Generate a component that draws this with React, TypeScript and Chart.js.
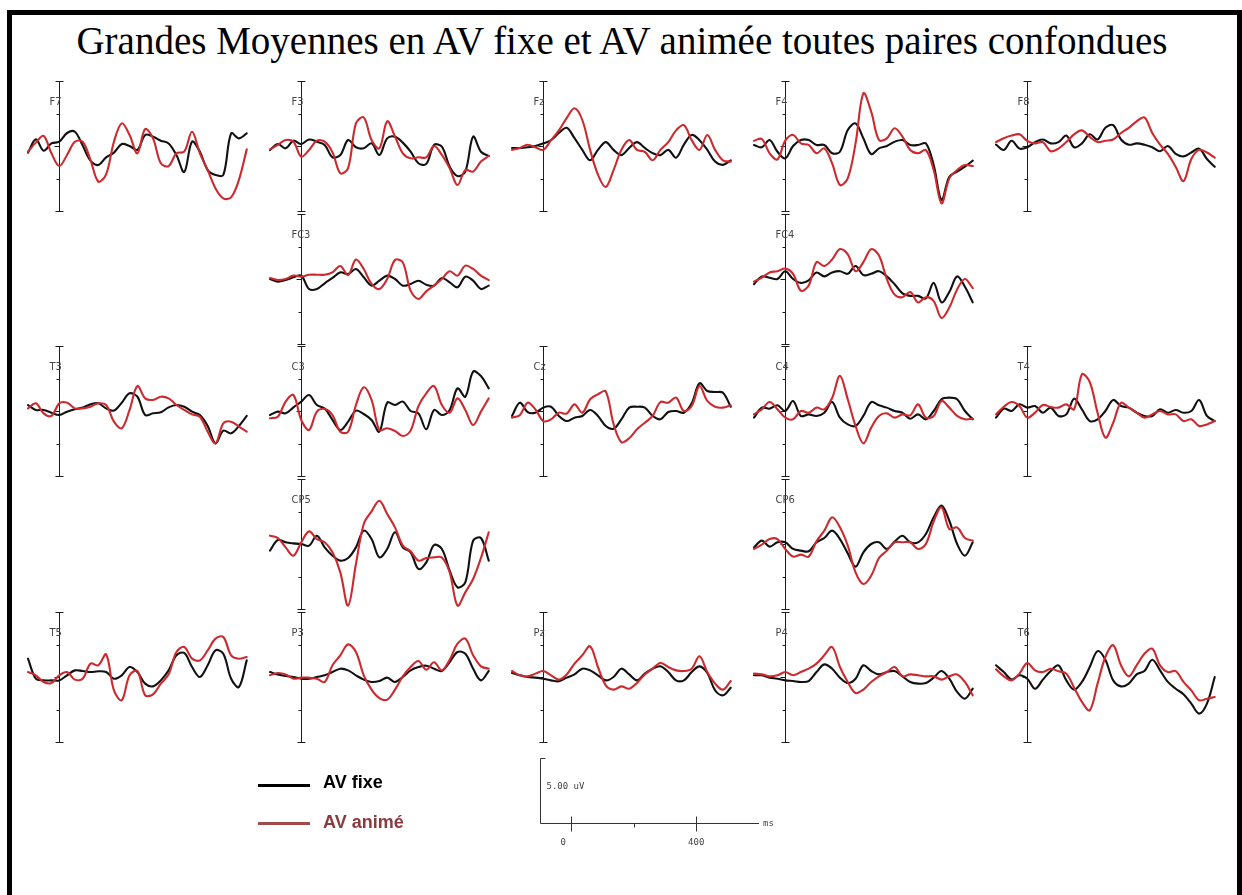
import React, { useEffect, useRef } from "react";
import { Chart, registerables } from "chart.js";

Chart.register(...registerables);

// ---------- data ----------
const TIMES_MS = [-100, -75, -50, -25, 0, 25, 50, 75, 100, 125, 150, 175, 200, 225, 250, 275, 300, 325, 350, 375, 400, 425, 450, 475, 500, 525, 550, 575, 600];
const AMPLITUDE_TICKS_UV = [-5, -2.5, 0, 2.5, 5];
const SCALE_TICKS_MS = [0, 200, 400];
const SCALE_TICK_LABELS = ["0", "", "400"];
const SCALE_BAR_UV = 5;

const F7_FIXE = [-0.51, 0.51, -0.36, 0.2, 0.33, 1.0, 1.1, 0.03, -1.13, -1.46, -0.87, -0.51, 0.15, 0, -0.3, 0.85, 0.72, 0.41, 0.2, -0.7, -2.0, 0.33, -0.44, -1.85, -2.23, -2.23, 0.97, 0.59, 0.97];
const F7_ANIME = [-0.44, 0.26, 0.77, -0.56, -1.54, -0.69, 0.33, 0.33, -1.08, -2.74, -2.18, 0.33, 1.74, 0.85, -0.56, 1.3, 0.59, -1.33, -1.54, -0.56, -0.44, 1.1, -0.56, -1.85, -3.26, -4.03, -3.95, -2.6, -0.26];
const F3_FIXE = [-0.31, 0.15, -0.18, 0.41, 0.15, 0.5, 0.33, 0.08, -0.87, -0.69, 0.46, -0.1, -0.18, 0.2, -0.69, 0.59, 0.72, 0.26, -0.44, -1.33, -1.38, 0.08, -0.05, -1.59, -2.31, -1.97, 0.72, -0.44, -0.77];
const F3_ANIME = [-0.26, 0.08, 0.46, 0.33, -0.82, -0.31, 0.41, 0.33, -0.49, -2.1, -1.7, 1.74, 2.2, 0.46, -0.18, 1.9, 0.72, -0.56, -0.95, -0.87, -0.87, 0, -0.69, -1.72, -3.0, -1.85, -1.97, -1.2, -0.77];
const FZ_FIXE = [-0.15, -0.15, -0.1, 0, 0.2, 0.45, 1.0, 1.4, 0.6, -0.3, -1.1, -0.3, 0.3, -0.3, -0.7, -0.15, 0.3, -0.15, -0.55, -0.7, -0.3, -0.9, 0.1, 0.85, 0.45, -0.3, -1.2, -1.45, -1.1];
const FZ_ANIME = [-0.3, -0.15, 0.1, -0.1, -0.3, 0.45, 1.2, 2.15, 2.9, 2.0, -0.3, -2.2, -3.15, -1.85, -0.3, 0.45, -0.3, -0.45, -1.1, -0.3, 0.3, 1.2, 1.6, 0.45, -0.3, 0.85, -0.3, -1.1, -1.2];
const F4_FIXE = [0.08, -0.1, 0.46, -0.44, -0.95, 0, 0.46, 0.46, 0.08, 0.08, -0.56, -0.44, 1.23, 1.74, 0.59, -0.62, -0.18, 0, 0.33, 0.46, 0.08, 0.08, 0.2, -1.46, -4.15, -2.36, -1.97, -1.59, -1.13];
const F4_ANIME = [0.41, 0.54, -0.56, -1.03, 0.41, 0.85, 0.2, 0.08, -0.56, -0.18, -1.33, -3.0, -2.49, 0.2, 4.05, 2.64, 0.46, 0.59, 1.36, 0.72, -0.31, -0.56, -0.31, -1.85, -4.41, -2.49, -1.85, -1.46, -1.54];
const F8_FIXE = [0.1, -0.3, 0.4, -0.2, -0.1, 0.3, 0.5, 0.2, 0.3, 0.8, -0.1, 0.2, 0.9, 0.5, 1.4, 1.6, 0.5, 0.1, 0.2, 0.1, -0.1, -0.4, 0, -0.6, -0.8, -0.5, -0.2, -1.0, -1.6];
const F8_ANIME = [0.3, 0.6, 0.8, 0.9, 0.4, 0.2, 0.3, -0.4, -0.2, 0.3, 0.9, 1.2, 0.7, 0.3, 0.4, 0.5, 1.0, 1.4, 1.9, 2.2, 1.0, 0.1, -0.6, -1.6, -2.7, -1.0, -0.3, -0.5, -0.9];
const FC3_FIXE = [0, -0.2, -0.08, 0.13, 0.26, -0.77, -0.77, -0.33, 0.08, 0.51, 0.38, 0.77, 0.13, -0.51, -0.13, 0.26, 0, -0.51, -0.38, -0.13, -0.44, -0.51, 0.08, -0.26, -0.64, 0.18, -0.13, -0.77, -0.51];
const FC3_ANIME = [0.08, -0.08, 0, 0.26, 0.18, 0.33, 0.33, 0.33, 0.51, 1.0, 0.3, 1.5, 0.77, -0.38, -0.77, 0, 1.46, 1.28, -0.9, -1.54, -0.95, -0.51, 0, 0.59, 0.26, 1.03, 0.77, 0.26, -0.08];
const FC4_FIXE = [-0.4, 0.2, 0.1, 0.0, 0.6, 0.0, -0.3, -0.1, 0.5, 0.2, 0.5, 0.6, 0.4, 1.0, 0.3, 0.4, 0.6, 0.2, -0.4, -1.1, -1.3, -1.3, -1.5, -0.3, -1.8, -1.0, 0.2, -0.6, -1.8];
const FC4_ANIME = [-0.2, 0.1, 0.5, 0.6, 0.8, 0.4, -0.9, -0.5, 1.3, 1.0, 1.5, 2.3, 1.9, 0.6, 1.3, 2.3, 1.8, 0.0, -1.2, -1.4, -1.0, -1.8, -1.4, -1.7, -3.0, -2.2, -0.8, 0.0, -0.7];
const T3_FIXE = [0.46, 0.08, 0.08, -0.13, -0.31, -0.05, 0.13, 0.26, 0.51, 0.59, 0.2, 0.03, 0.64, 1.36, 1.1, -0.31, -0.18, -0.1, 0.28, 0.46, 0.33, -0.05, -0.31, -1.15, -2.49, -1.51, -1.72, -1.15, -0.38];
const T3_ANIME = [0.2, 0.59, -0.18, -0.38, 0.59, 0.64, 0.2, 0.2, 0.33, 0.59, 0.46, -0.82, -1.33, 0.08, 1.92, 0.97, 0.85, 1.1, 0.97, 0.46, 0.08, -0.26, -0.44, -1.59, -2.49, -0.95, -0.82, -1.2, -1.59];
const C3_FIXE = [-0.31, -0.05, -0.18, 0.28, 0.72, 1.23, 0.46, 0.2, -0.69, -1.46, -0.82, 0.03, -0.23, -0.69, -1.59, 0.64, 0.46, 0.72, 0, -0.18, -1.41, 0.08, -0.31, 0.08, 1.74, 1.1, 3.03, 2.69, 1.74];
const C3_ANIME = [-0.56, -0.44, 0.72, 1.23, -0.69, -1.46, -0.05, 0.15, -0.31, -1.59, -1.59, 0.46, 1.82, 0.85, -1.46, -1.33, -1.54, -1.92, -1.51, 0.38, 1.36, 1.92, 0.46, -0.13, 0.97, 0.08, -1.08, -0.05, 0.97];
const CZ_FIXE = [-0.38, 0.64, -0.08, -0.13, 0.26, 0.33, -0.38, -0.77, -0.51, -0.38, 0.08, -0.38, -1.15, -1.36, -0.64, 0.26, 0.33, 0.26, -0.38, -0.64, -0.08, 0, -0.13, 0.59, 2.13, 1.54, 1.46, 1.41, 0.33];
const CZ_ANIME = [-0.51, -0.33, 0.64, 0.13, -0.77, -0.64, -0.13, -0.2, 0.51, -0.13, 0.9, 1.28, 1.5, -1.0, -2.4, -2.1, -1.41, -0.9, -0.38, 0.69, 0.64, 1.03, 0, 0.38, 1.92, 0.77, 0.33, 0.26, 0.44];
const C4_FIXE = [-0.51, 0.26, 0.18, 0.44, 0, 0.77, -0.38, -0.26, -0.38, -0.13, 0.69, -0.51, -1.03, -1.15, -0.38, 0.69, 0.44, 0.26, 0, -0.13, -0.59, -0.26, -0.64, 0, 0.9, 1.03, 0.9, 0, -0.64];
const C4_ANIME = [-0.26, 0.13, 0.69, 0.13, -0.51, -0.64, 0, -0.13, 0.26, 0.13, 1.0, 2.7, 0.9, -1.15, -2.49, -1.28, -0.38, -0.18, -0.51, -0.26, -0.33, 0.51, -0.51, -0.38, 0.77, 0.26, -0.38, -0.64, -0.59];
const T4_FIXE = [-0.51, 0.18, 0, 0.51, 0.26, 0.38, -0.13, 0.26, -0.38, -0.26, 0.95, 0.13, -0.77, -0.64, 0, 0.85, 0.38, 0.26, -0.13, -0.38, -0.38, 0.13, -0.13, 0.08, -0.13, 0, 0.85, -0.38, -0.77];
const T4_ANIME = [-0.26, 0.33, 0.69, 0.38, -0.51, -0.13, 0.46, 0.31, 0.26, 0.51, 0.13, 2.82, 2.23, -0.13, -2.05, -0.9, 0.64, 0.26, -0.13, -0.51, -0.26, 0, -0.26, -0.26, -0.77, -0.64, -1.15, -1.03, -0.77];
const CP5_FIXE = [-0.51, 0.31, 0.13, 0.05, 0, -0.13, 0.64, -0.26, -0.9, -1.28, -1.08, -0.26, 1.03, 0.38, -1.03, -0.38, 0.9, -0.26, -0.64, -1.92, -1.41, -0.08, -0.38, -2.05, -3.33, -2.95, 0.26, 0.46, -1.28];
const CP5_ANIME = [0.64, 0.46, -0.26, -0.9, 0.13, 0.97, 0.38, 0.13, -0.64, -2.18, -4.74, -1.54, 1.54, 2.51, 3.33, 2.31, 1.28, -0.13, -0.56, -1.28, -1.08, -1.03, -1.03, -2.18, -4.74, -3.72, -2.69, -1.08, 0.9];
const CP6_FIXE = [-0.26, 0.26, -0.2, 0.13, 0.13, -0.38, -0.51, -0.56, 0.13, 0.46, 1.03, 0.38, -0.72, -1.74, -0.64, 0, 0.13, -0.38, 0.18, 0.64, 0.13, 0.13, 0.77, 2.05, 2.95, 1.79, 0, -0.9, 0.13];
const CP6_ANIME = [-0.38, -0.05, 0.38, 0.38, -0.38, -0.97, -0.82, -0.97, 0.21, 1.03, 2.05, 1.28, -0.13, -2.18, -3.08, -2.44, -1.08, -0.51, 0.13, 0.13, 0.13, -0.38, 0, 1.74, 2.82, 1.15, 1.28, 0.46, 0.26];
const T5_FIXE = [1.41, -0.13, -0.26, -0.26, -0.26, 0.13, 0.51, 0.46, 0.38, 0.44, 0.38, -0.13, 0.13, 0.77, 0.38, -0.51, -0.72, -0.26, 0.51, 1.67, 1.85, 0.77, 0, 0.9, 2.05, 1.79, -0.13, -0.77, 1.28];
const T5_ANIME = [0.38, 0.13, -0.38, -0.46, 0.13, 0.38, -0.2, -0.13, 1.03, 0.9, 1.74, -1.03, -1.79, 0.13, 0.46, -1.41, -1.33, -0.51, 0.2, 1.92, 2.31, 1.41, 1.28, 2.05, 2.95, 3.08, 1.67, 1.41, 1.54];
const P3_FIXE = [0.38, 0.2, 0.08, 0, -0.13, -0.13, 0, 0.13, 0.38, 0.64, 0.51, 0.13, -0.2, -0.38, -0.31, -0.05, -0.38, 0, 0.51, 0.77, 0.87, 0.64, 0.46, 1.15, 1.92, 1.79, 0.64, -0.26, 0.46];
const P3_ANIME = [0.13, 0.31, 0.2, -0.13, -0.05, -0.05, -0.13, -0.38, 0.9, 1.67, 2.51, 1.92, 0.13, -0.97, -1.62, -1.74, -0.97, 0.05, 0.77, 1.23, 0.56, 1.13, 0.51, 1.33, 2.56, 2.95, 1.67, 0.82, 0.64];
const PZ_FIXE = [0.31, 0.13, 0, -0.05, -0.13, -0.26, -0.33, -0.05, 0.2, 0.64, 0.51, 0.13, -0.26, 0, 0.64, 0.2, -0.26, 0.26, 0.64, 0.82, 0.38, -0.26, -0.26, 0.38, 0.82, 0.31, -1.03, -1.41, -0.82];
const PZ_ANIME = [0.46, 0.13, 0.05, 0.26, 0.46, 0.13, -0.2, 0.2, 1.03, 1.67, 2.36, 0.77, -0.64, -0.97, -0.72, -0.9, -0.46, 0.2, 0.64, 1.08, 0.77, 0.51, 0.46, 0.64, 1.59, 0.38, -0.51, -0.97, -0.31];
const P4_FIXE = [0.13, 0.13, -0.05, -0.13, -0.26, -0.31, -0.38, -0.31, 0.38, 0.97, 0.64, -0.05, -0.46, -0.13, 0.9, 0.46, 0.2, 0.38, 0.46, 0.05, -0.38, -0.51, -0.46, -0.05, 0.46, -0.13, -1.15, -1.67, -0.9];
const P4_ANIME = [0.26, 0.2, 0.05, 0.13, 0.38, 0.13, 0.38, 0.64, 1.03, 1.67, 2.31, 0.77, -0.38, -1.23, -0.97, -0.38, 0.05, 0.38, 0.77, 0.05, 0.2, 0.13, 0.05, 0.05, -0.2, 0.05, 0.2, -0.38, -1.41];
const T6_FIXE = [0.9, 0.38, -0.2, 0.13, -0.13, -0.9, -0.2, 0.46, 0.9, -0.26, -0.97, -0.38, 0.77, 1.99, 1.33, -0.26, -0.72, -0.51, 0.2, 0.46, 1.33, 0.51, -0.38, -0.9, -1.33, -2.05, -2.82, -2.05, 0];
const T6_ANIME = [0.59, 0.05, -0.26, 0.26, 1.08, 0.51, 0.38, 0.64, 0.44, 0.26, -0.82, -1.92, -2.56, -0.51, 1.54, 2.44, 0.9, 0.05, 0.9, 1.79, 2.18, 0.9, 0.38, 0.46, -0.38, -1.03, -1.79, -1.67, -1.54];

const ELECTRODE_GRID = [
  ["F7", "F3", "Fz", "F4", "F8"],
  ["", "FC3", "", "FC4", ""],
  ["T3", "C3", "Cz", "C4", "T4"],
  ["", "CP5", "", "CP6", ""],
  ["T5", "P3", "Pz", "P4", "T6"],
];

const SERIES: Record<string, number[][]> = {
  F7: [F7_FIXE, F7_ANIME], F3: [F3_FIXE, F3_ANIME], Fz: [FZ_FIXE, FZ_ANIME], F4: [F4_FIXE, F4_ANIME], F8: [F8_FIXE, F8_ANIME],
  FC3: [FC3_FIXE, FC3_ANIME], FC4: [FC4_FIXE, FC4_ANIME],
  T3: [T3_FIXE, T3_ANIME], C3: [C3_FIXE, C3_ANIME], Cz: [CZ_FIXE, CZ_ANIME], C4: [C4_FIXE, C4_ANIME], T4: [T4_FIXE, T4_ANIME],
  CP5: [CP5_FIXE, CP5_ANIME], CP6: [CP6_FIXE, CP6_ANIME],
  T5: [T5_FIXE, T5_ANIME], P3: [P3_FIXE, P3_ANIME], Pz: [PZ_FIXE, PZ_ANIME], P4: [P4_FIXE, P4_ANIME], T6: [T6_FIXE, T6_ANIME],
};

const TITLE = "Grandes Moyennes en AV fixe et AV animée toutes paires confondues";
const LEGEND_FIXE = "AV fixe";
const LEGEND_ANIME = "AV animé";

// ---------- layout & style ----------
const PX_PER_MS = 0.3125;
const PX_PER_UV = 13;
const T_MIN = -100;
const T_MAX = 600;
const UV_RANGE = 5;
const COL_AXIS_X = [59, 301, 543, 785, 1027];
const ROW_BASE_Y = [146, 279, 411, 544, 677];
const PAD = { left: 30, right: 12, top: 8, bottom: 8 };
const BLACK = "#111111";
const RED = "#cc2a2e";
const AXIS_COLOR = "#1c1c1c";

const PLOT_W = (T_MAX - T_MIN) * PX_PER_MS;
const PLOT_H = 2 * UV_RANGE * PX_PER_UV;

const eegAxisPlugin = {
  id: "eegAxis",
  beforeDatasetsDraw(chart: any, _args: any, opts: any) {
    const { ctx } = chart;
    const xs = chart.scales.x;
    const ys = chart.scales.y;
    const ax = Math.round(xs.getPixelForValue(0)) + 0.5;
    const yTop = Math.round(ys.getPixelForValue(UV_RANGE));
    const yBot = Math.round(ys.getPixelForValue(-UV_RANGE));
    ctx.save();
    ctx.strokeStyle = AXIS_COLOR;
    ctx.lineWidth = 1;
    ctx.beginPath();
    ctx.moveTo(ax, yTop);
    ctx.lineTo(ax, yBot + 1);
    ctx.stroke();
    for (const v of AMPLITUDE_TICKS_UV) {
      const py = Math.round(ys.getPixelForValue(v)) + 0.5;
      ctx.beginPath();
      if (Math.abs(v) === UV_RANGE) {
        ctx.moveTo(ax - 4, py);
        ctx.lineTo(ax + 4, py);
      } else if (v === 0) {
        ctx.moveTo(ax - 5, py);
        ctx.lineTo(ax, py);
      } else {
        ctx.moveTo(ax - 3, py);
        ctx.lineTo(ax, py);
      }
      ctx.stroke();
    }
    ctx.fillStyle = "#444444";
    ctx.font = "11px 'Liberation Sans Narrow', 'DejaVu Sans Condensed', sans-serif";
    ctx.textBaseline = "middle";
    ctx.textAlign = "left";
    ctx.fillText(opts.label || "", ax - 10, ys.getPixelForValue(3.4));
    ctx.restore();
  },
};

function Panel({ name, col, row }: { name: string; col: number; row: number }) {
  const ref = useRef<HTMLCanvasElement>(null);
  const w = Math.round(PAD.left + PLOT_W + PAD.right);
  const h = Math.round(PAD.top + PLOT_H + PAD.bottom);
  const left = Math.round(COL_AXIS_X[col] - PAD.left - (0 - T_MIN) * PX_PER_MS);
  const top = Math.round(ROW_BASE_Y[row] - PAD.top - UV_RANGE * PX_PER_UV);
  useEffect(() => {
    const [fixe, anime] = SERIES[name];
    const chart = new Chart(ref.current as HTMLCanvasElement, {
      type: "line",
      data: {
        datasets: [
          {
            label: LEGEND_ANIME,
            data: TIMES_MS.map((t, i) => ({ x: t, y: anime[i] })),
            borderColor: RED,
            borderWidth: 2.1,
            order: 0,
          },
          {
            label: LEGEND_FIXE,
            data: TIMES_MS.map((t, i) => ({ x: t, y: fixe[i] })),
            borderColor: BLACK,
            borderWidth: 2.1,
            order: 1,
          },
        ],
      },
      options: {
        responsive: false,
        animation: false,
        devicePixelRatio: 1,
        layout: { padding: { left: PAD.left, right: w - PAD.left - PLOT_W, top: PAD.top, bottom: h - PAD.top - PLOT_H } },
        elements: {
          point: { radius: 0 },
          line: { tension: 0.35, borderJoinStyle: "round", borderCapStyle: "round", fill: false },
        },
        datasets: { line: { clip: false } as any },
        plugins: {
          legend: { display: false },
          tooltip: { enabled: false },
          title: { display: false },
          eegAxis: { label: name },
        } as any,
        scales: {
          x: { type: "linear", min: T_MIN, max: T_MAX, display: false },
          y: { type: "linear", min: -UV_RANGE, max: UV_RANGE, display: false },
        },
      },
      plugins: [eegAxisPlugin],
    });
    return () => chart.destroy();
  }, [name]);
  return (
    <canvas
      ref={ref}
      width={w}
      height={h}
      style={{ position: "absolute", left, top, width: w, height: h }}
    />
  );
}

const scaleBarPlugin = {
  id: "scaleBar",
  afterDraw(chart: any) {
    const { ctx } = chart;
    const xs = chart.scales.x;
    const ys = chart.scales.y;
    const x0 = Math.round(xs.getPixelForValue(T_MIN)) + 0.5;
    const x1 = Math.round(xs.getPixelForValue(T_MAX));
    const yb = Math.round(ys.getPixelForValue(0)) + 0.5;
    const yt = Math.round(ys.getPixelForValue(SCALE_BAR_UV)) + 0.5;
    ctx.save();
    ctx.strokeStyle = "#333333";
    ctx.lineWidth = 1;
    ctx.beginPath();
    ctx.moveTo(x0 + 5, yt);
    ctx.lineTo(x0, yt);
    ctx.lineTo(x0, yb);
    ctx.lineTo(x1, yb);
    ctx.stroke();
    SCALE_TICKS_MS.forEach((t, i) => {
      const tx = Math.round(xs.getPixelForValue(t)) + 0.5;
      ctx.beginPath();
      if (SCALE_TICK_LABELS[i]) {
        ctx.moveTo(tx, yb - 7);
        ctx.lineTo(tx, yb + 8);
      } else {
        ctx.moveTo(tx, yb);
        ctx.lineTo(tx, yb + 4);
      }
      ctx.stroke();
    });
    ctx.fillStyle = "#444444";
    ctx.font = "9px 'DejaVu Sans Mono', monospace";
    ctx.textBaseline = "middle";
    SCALE_TICK_LABELS.forEach((lab, i) => {
      if (!lab) return;
      const tx = xs.getPixelForValue(SCALE_TICKS_MS[i]);
      ctx.textAlign = "center";
      ctx.fillText(lab, SCALE_TICKS_MS[i] === 0 ? tx - 8 : tx, yb + 19);
    });
    ctx.textAlign = "left";
    ctx.fillText(SCALE_BAR_UV.toFixed(2) + " uV", x0 + 6, ys.getPixelForValue(2.8));
    ctx.fillText("ms", x1 + 4, yb);
    ctx.restore();
  },
};

function ScaleBar() {
  const ref = useRef<HTMLCanvasElement>(null);
  const pad = { left: 6, right: 30, top: 8, bottom: 30 };
  const plotH = SCALE_BAR_UV * PX_PER_UV;
  const w = Math.round(pad.left + PLOT_W + pad.right);
  const h = Math.round(pad.top + plotH + pad.bottom);
  const left = 540 - pad.left;
  const top = 823 - plotH - pad.top;
  useEffect(() => {
    const chart = new Chart(ref.current as HTMLCanvasElement, {
      type: "line",
      data: { datasets: [{ data: [], borderWidth: 0 }] },
      options: {
        responsive: false,
        animation: false,
        devicePixelRatio: 1,
        layout: { padding: { left: pad.left, right: w - pad.left - PLOT_W, top: pad.top, bottom: h - pad.top - plotH } },
        plugins: { legend: { display: false }, tooltip: { enabled: false } },
        scales: {
          x: { type: "linear", min: T_MIN, max: T_MAX, display: false },
          y: { type: "linear", min: 0, max: SCALE_BAR_UV, display: false },
        },
      },
      plugins: [scaleBarPlugin],
    });
    return () => chart.destroy();
  }, []);
  return <canvas ref={ref} width={w} height={h} style={{ position: "absolute", left, top, width: w, height: h }} />;
}

export default function App() {
  const panels: { name: string; col: number; row: number }[] = [];
  ELECTRODE_GRID.forEach((r, ri) => r.forEach((n, ci) => { if (n) panels.push({ name: n, col: ci, row: ri }); }));
  return (
    <div style={{ position: "absolute", left: 0, top: 0, width: 1242, height: 895, background: "#ffffff", overflow: "hidden" }}>
      <div style={{ position: "absolute", left: 7, top: 10, width: 1225, height: 900, borderLeft: "5px solid #000", borderTop: "5px solid #000", borderRight: "5px solid #000" }} />
      <div
        style={{
          position: "absolute", left: 12, width: 1220, top: 21, textAlign: "center",
          fontFamily: "'Liberation Serif', 'Times New Roman', serif", fontSize: 39, lineHeight: "39px", color: "#000", whiteSpace: "nowrap",
        }}
      >
        {TITLE}
      </div>
      {panels.map((p) => <Panel key={p.name} name={p.name} col={p.col} row={p.row} />)}
      <div style={{ position: "absolute", left: 258, top: 784, width: 52, height: 3, background: "#000" }} />
      <div style={{ position: "absolute", left: 323, top: 773, fontFamily: "'Liberation Sans', Arial, sans-serif", fontWeight: "bold", fontSize: 18, lineHeight: "18px", color: "#000", whiteSpace: "nowrap" }}>{LEGEND_FIXE}</div>
      <div style={{ position: "absolute", left: 258, top: 822, width: 52, height: 3, background: "#a04a4a" }} />
      <div style={{ position: "absolute", left: 323, top: 813, fontFamily: "'Liberation Sans', Arial, sans-serif", fontWeight: "bold", fontSize: 18, lineHeight: "18px", color: "#8c3a40", whiteSpace: "nowrap" }}>{LEGEND_ANIME}</div>
      <ScaleBar />
    </div>
  );
}
